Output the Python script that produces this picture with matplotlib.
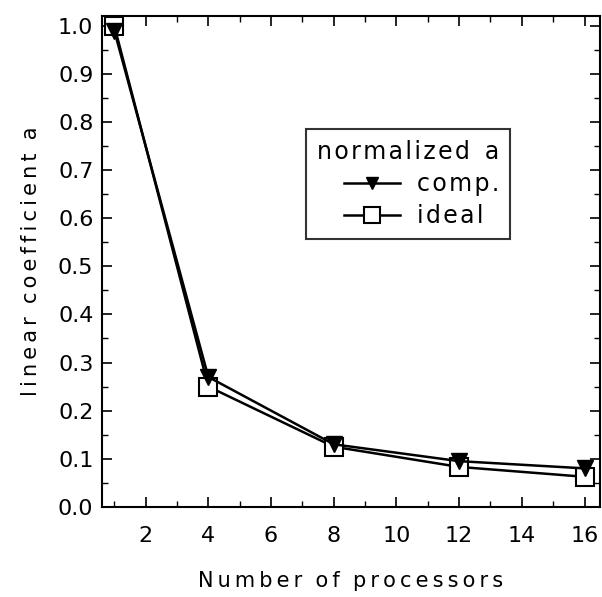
import matplotlib.pyplot as plt
from matplotlib.ticker import MultipleLocator

# dane
processors = [1, 4, 8, 12, 16]
comp_a = [0.99, 0.27, 0.13, 0.095, 0.08]
ideal_a = [1.0, 0.25, 0.125, 0.083, 0.0625]

plt.rcParams['font.family'] = ['DejaVu Sans']

fig = plt.figure(figsize=(6.02, 5.97), dpi=100)
ax = fig.add_axes([0.169, 0.151, 0.828, 0.822])

ax.plot(processors, comp_a, color='black', lw=1.8, marker='v', ms=11,
        mfc='black', mec='black', label='comp.', zorder=3)
ax.plot(processors, ideal_a, color='black', lw=1.8, marker='s', ms=13,
        mfc='white', mec='black', mew=1.5, label='ideal', zorder=2)

ax.set_xlim(0.6, 16.5)
ax.set_ylim(0.0, 1.02)
ax.xaxis.set_major_locator(MultipleLocator(2))
ax.xaxis.set_minor_locator(MultipleLocator(1))
ax.yaxis.set_major_locator(MultipleLocator(0.1))
ax.yaxis.set_minor_locator(MultipleLocator(0.05))
ax.set_xticks([2, 4, 6, 8, 10, 12, 14, 16])
ax.yaxis.set_major_formatter(plt.FuncFormatter(lambda v, p: f"{v:.1f}"))
ax.tick_params(which='both', direction='in', top=True, right=True, labelsize=16)
ax.tick_params(which='major', length=7, width=1.2)
ax.tick_params(axis='x', which='major', pad=14)
ax.tick_params(axis='y', which='major', pad=6)
ax.tick_params(which='minor', length=4, width=1.0)
for s in ax.spines.values():
    s.set_linewidth(1.5)

def spaced(txt, gap="\u2009", word="  "):
    # rozstrzelony tekst jak w oryginale
    return word.join(gap.join(w) for w in txt.split(" "))

ax.set_xlabel(spaced("Number of processors"), fontsize=15, labelpad=18)
ax.set_ylabel(spaced("linear coefficient a"), fontsize=15, labelpad=12)

leg = ax.legend(labels=[spaced("comp.", "\u200a", " "), spaced("ideal", "\u200a", " ")],
                title=spaced("normalized a", "\u200a", "  "),
                loc='upper left', bbox_to_anchor=(0.41, 0.77),
                borderaxespad=0, fontsize=17, title_fontsize=17, frameon=True,
                fancybox=False, edgecolor='black', handlelength=2.4, borderpad=0.45,
                labelspacing=0.35, handletextpad=0.7, markerscale=0.85)
leg.get_frame().set_linewidth(1.5)
leg._legend_box.align = "right"

fig.savefig("out.png", dpi=100)
